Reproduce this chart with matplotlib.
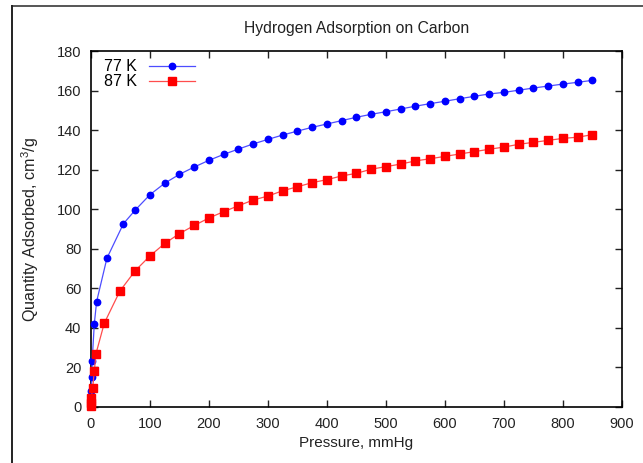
import numpy as np
import matplotlib
matplotlib.use("Agg")
import matplotlib.pyplot as plt
from matplotlib.lines import Line2D

plt.rcParams['font.family'] = ['Liberation Sans', 'DejaVu Sans']
plt.rcParams['mathtext.fontset'] = 'custom'
plt.rcParams['mathtext.rm'] = 'Liberation Sans'

# pressure (mmHg) and quantity adsorbed (cm3/g)
p_77 = [0.05, 0.2, 0.5, 1.2, 2, 5.6, 9.5, 27, 55, 75, 100, 125, 150, 175, 200, 225,
        250, 275, 300, 325, 350, 375, 400, 425, 450, 475, 500, 525, 550, 575,
        600, 625, 650, 675, 700, 725, 750, 775, 800, 825, 850]
q_77 = [1, 4, 8, 15, 23.4, 42, 53.3, 75.3, 92.8, 99.7, 107.5, 113.3, 117.8, 121.5,
        124.9, 127.9, 130.6, 133.2, 135.5, 137.7, 139.7, 141.6, 143.3, 145, 146.7,
        148.2, 149.5, 150.9, 152.3, 153.6, 154.8, 156.1, 157.3, 158.5, 159.3,
        160.4, 161.5, 162.5, 163.5, 164.4, 165.4]

p_87 = [0.05, 0.2, 0.5, 2.8, 5.6, 8.5, 22.5, 49, 75, 100, 125, 150, 175, 200, 225,
        250, 275, 300, 325, 350, 375, 400, 425, 450, 475, 500, 525, 550, 575,
        600, 625, 650, 675, 700, 725, 750, 775, 800, 825, 850]
q_87 = [0.5, 2, 4.5, 9.5, 18, 27, 42.4, 58.7, 69, 76.5, 82.8, 87.8, 91.9, 95.7,
        98.9, 101.9, 104.8, 106.8, 109.5, 111.5, 113.6, 115.1, 117, 118.3, 120.4,
        121.7, 123, 124.6, 125.7, 126.9, 128.1, 129.3, 130.5, 131.6, 133, 134,
        135, 136, 136.6, 137.9]

fig = plt.figure(figsize=(6.43, 4.63), dpi=100)
ax = fig.add_axes([0.1415, 0.121, 0.8258, 0.7678])

ax.plot(p_77, q_77, color='#4d4dff', lw=0.9, marker='o', ms=4.6, mec='#0000ff',
        mfc='#0000ff', label='77 K', clip_on=False, zorder=3)
ax.plot(p_87, q_87, color='#ff4d4d', lw=0.9, marker='s', ms=5.6, mec='#ff0000',
        mfc='#ff0000', label='87 K', clip_on=False, zorder=3)

ax.set_xlim(0, 900)
ax.set_ylim(0, 180)
ax.set_xticks(np.arange(0, 901, 100))
ax.set_yticks(np.arange(0, 181, 20))
ax.tick_params(direction='in', length=5, width=1, top=True, right=True,
               labelsize=10.5, colors='#222222', pad=7)
for s in ax.spines.values():
    s.set_linewidth(1.2)

ax.set_title('Hydrogen Adsorption on Carbon', fontsize=11.3, color='#222222', pad=13)
ax.set_xlabel('Pressure, mmHg', fontsize=11, color='#222222', labelpad=4)
ax.set_ylabel(r'Quantity Adsorbed, cm$^{\mathregular{3}}$/g', fontsize=11.6,
              color='#222222', labelpad=11)

ax.legend(loc='upper left', frameon=False, markerfirst=False, fontsize=11.5,
          handlelength=2.85, handletextpad=0.75, labelspacing=0.0,
          borderaxespad=0.2, bbox_to_anchor=(0.007, 1.005))

# page frame lines at top and left
fig.add_artist(Line2D([12 / 643, 1], [1 - 5.7 / 463, 1 - 5.7 / 463],
                      color='#555555', lw=1.4, transform=fig.transFigure))
fig.add_artist(Line2D([12.3 / 643, 12.3 / 643], [0, 1 - 5.7 / 463],
                      color='#222222', lw=1.4, transform=fig.transFigure))

fig.savefig('out.png', dpi=100)
